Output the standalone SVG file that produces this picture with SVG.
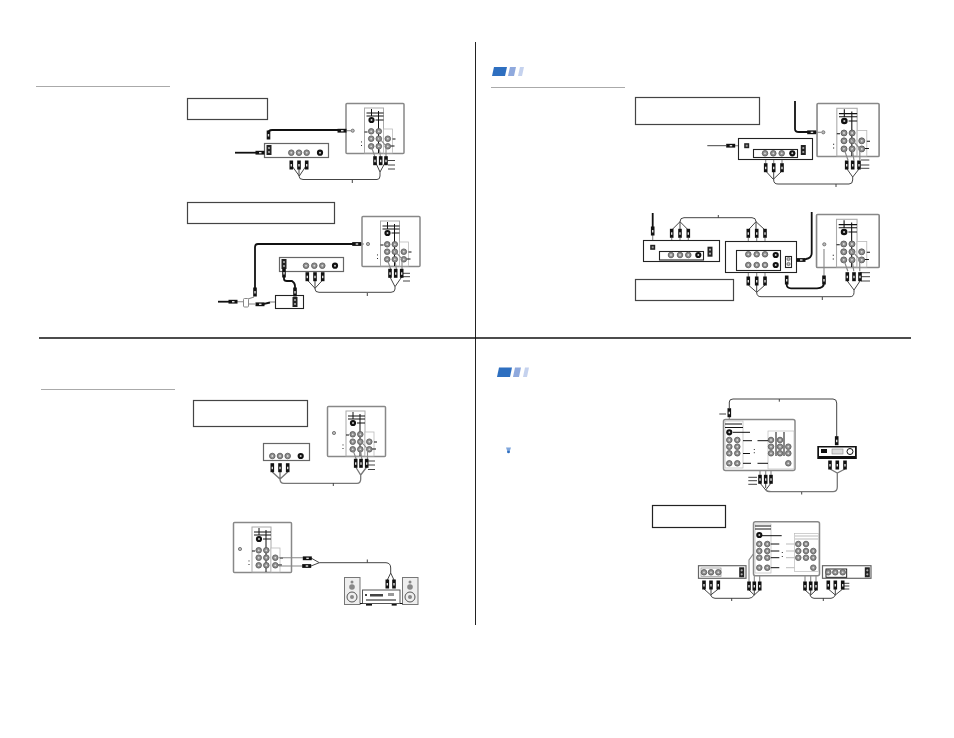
<svg xmlns="http://www.w3.org/2000/svg" width="954" height="738" viewBox="0 0 954 738">
<style>
.frame{fill:#fff;stroke:#666;stroke-width:1.2}
.note{fill:#fff;stroke:#444;stroke-width:1.2}
.tvf{fill:#fff;stroke:#888;stroke-width:1.5}
.bframe{fill:#fff;stroke:#222;stroke-width:1.1}
.ln{fill:none;stroke:#111;stroke-width:1}
.gl{fill:none;stroke:#aaa;stroke-width:.8}
.cb{fill:none;stroke:#444;stroke-width:1}
.cg{fill:none;stroke:#777;stroke-width:1.3}
.co{fill:none;stroke:#111;stroke-width:1.8}
.ar{fill:none;stroke:#888;stroke-width:1.1}
.bk{fill:#111}
.rule{stroke:#aaa;stroke-width:1}
</style>
<defs>
<g id="j"><circle r="2.8" fill="#8f8f8f" stroke="#555" stroke-width=".8"/><circle r=".9" fill="#ddd"/></g>
<g id="s"><circle r="3.1" fill="#111"/><circle r="1" fill="#ccc"/></g>
<g id="c"><circle r="1.6" fill="#bbb" stroke="#666" stroke-width=".8"/></g>
<g id="pd"><rect x="-1.8" y="-4.500" width="3.600" height="9" fill="#111"/><rect x="-.7" y="-1" width="1.4" height="2.500" fill="#ddd"/></g>
<g id="ph"><rect x="-4.500" y="-1.9" width="9" height="3.800" fill="#111"/><rect x="-1" y="-.7" width="2.500" height="1.400" fill="#ddd"/></g>
<g id="sq"><rect x="-2.500" y="-2.500" width="5" height="5" fill="#222"/><rect x="-1" y="-1" width="2" height="2" fill="#999"/></g>
<g id="vr"><rect x="-2.500" y="-5" width="5" height="10" fill="#222"/><circle cy="-2" r="1.100" fill="#aaa"/><circle cy="2" r="1.100" fill="#aaa"/></g>
<path id="leads" class="ar" d="M29.500 54L26 44M35 54L33.500 44M40.500 54V43L33.500 35"/>
<g id="tv">
<rect x=".5" y=".5" width="58" height="50" rx="1" class="tvf"/>
<rect x="19" y="5" width="19" height="45" fill="#fff" stroke="#aaa" stroke-width="1"/>
<rect x="38" y="26" width="9" height="24" fill="#fff" stroke="#bbb" stroke-width=".8"/>
<path class="ln" d="M21 10H38M21 13H38M33 8V50M26 6V13M30 17H38M19 29H22M47 36H50M45 43H49"/>
<use href="#s" x="26" y="17"/>
<use href="#j" x="25.700" y="28.300"/><use href="#j" x="33.300" y="28.300"/>
<use href="#j" x="25.700" y="35.700"/><use href="#j" x="33.300" y="35.700"/><use href="#j" x="42.300" y="35.700"/>
<use href="#j" x="25.700" y="43.300"/><use href="#j" x="33.300" y="43.300"/><use href="#j" x="42.300" y="43.300"/>
<path d="M16 38.500v.9M16 42v.9" stroke="#111" stroke-width="1"/>
</g>
</defs>
<rect width="954" height="738" fill="#fff"/>

<g id="page-dividers">
<path d="M475.500 42V625" stroke="#222" stroke-width="1"/>
<path d="M39 338H911" stroke="#111" stroke-width="1.600"/>
<path class="rule" d="M36 86.500H170M491 87.500H625M41 389.500H175"/>
</g>

<g id="badge-top">
<path d="M494 67H507L505 76H492Z" fill="#2e6fc0"/><path d="M510 67H516L514 76H508Z" fill="#8fa9dd"/><path d="M520 67H524L522 76H518Z" fill="#c5d2ee"/>
</g>
<g id="badge-bottom">
<path d="M499 367.500H512L510 377H497Z" fill="#2e6fc0"/><path d="M515 367.500H521L519 377H513Z" fill="#8fa9dd"/><path d="M525 367.500H529L527 377H523Z" fill="#c5d2ee"/>
</g>
<g id="tip-icon"><path d="M506 447.500h5l-1 3v2h-3v-2Z" fill="#7fa6dc"/><circle cx="508.500" cy="452" r="1.300" fill="#2e6fc0"/></g>

<g id="note-1"><rect x="187.500" y="98.500" width="80" height="21" class="note"/></g>
<g id="note-2"><rect x="187.500" y="202.500" width="147" height="21" class="note"/></g>
<g id="note-3"><rect x="635.500" y="97.500" width="124" height="27" class="note"/></g>
<g id="note-4"><rect x="635.500" y="279.500" width="98" height="21" class="note"/></g>
<g id="note-5"><rect x="193.500" y="400.500" width="114" height="26" class="note"/></g>
<g id="note-6"><rect x="652.500" y="505.500" width="73" height="22" class="note" style="stroke:#222"/></g>

<g id="tv-1"><use href="#tv" x="345.500" y="103"/><use href="#c" x="352.700" y="130.700"/></g>
<g id="tv-2"><use href="#tv" x="361.500" y="216"/><use href="#c" x="368" y="244"/></g>
<g id="tv-3"><use href="#tv" transform="translate(816.500 103) scale(1.070 1.060)"/><use href="#c" x="823.300" y="132.300"/></g>
<g id="tv-4"><use href="#tv" transform="translate(816 214) scale(1.080 1.060)"/><use href="#c" x="824.300" y="244.300"/></g>
<g id="tv-5"><use href="#tv" x="327" y="406"/><use href="#c" x="334" y="433"/></g>
<g id="tv-6"><use href="#tv" x="233" y="522"/><use href="#c" x="240" y="549"/></g>

<g id="connectors">
<use href="#leads" x="345.500" y="103"/><use href="#leads" x="361.500" y="216"/>
<use href="#leads" transform="translate(816.500 103) scale(1.070 1.060)"/>
<use href="#leads" transform="translate(816 214) scale(1.080 1.060)"/>
<use href="#leads" x="327" y="406"/>
<!-- diagram 1 -->
<path class="co" d="M268.500 133Q268.500 130 272 130H338"/>
<path class="ar" d="M345 130.700H351"/>
<path class="co" d="M235 152.700H258"/>
<path class="cb" d="M291.300 165L299.300 176L306.700 165M299 165V176Q299 179.500 303 179.500H377Q380 179.500 380 176V172M375 161L380 172L386 161M352.300 180V183"/>
<path class="cb" d="M388 160.500H395M388 165H395M388 169H395"/>
<!-- diagram 2 -->
<path class="co" d="M353 244H258Q255 244 255 247V289"/>
<path class="ar" d="M359 244H364"/>
<path class="co" d="M284 276V279Q284 281 287 281H292Q295 283 295 286V291"/>
<path class="co" d="M218 301.700H230"/>
<path class="ar" d="M235 301.700H243M248 299L254 297M248 304L255 304"/>
<path class="co" d="M262 304.300L270 302.500"/>
<path class="ar" d="M270 302H294"/>
<path class="cb" d="M307.300 280L315 288.300L322.700 280M315 280V289Q315 292.300 319 292.300H391Q395 292.300 395 289V286.700M390 277L395 286.700L401.700 277M367.300 293V296M403 273.300H410M403 276.700H410M403 281H410"/>
<!-- diagram 3 -->
<path class="co" d="M795 101V129Q795 132 799 132H808"/>
<path class="ar" d="M815 132.300H821"/>
<path class="cb" d="M707.300 145.700H726"/>
<path class="ar" d="M735 145.700H743"/>
<path class="cb" d="M765.700 171L773.300 179.300L782 171M773.700 171V180Q773.700 184 778 184H849Q852.700 184 852.700 180V177M847 169L852.700 177L859 169M836 184V187M861 160H869.300M861 165H869.300M861 168.300H869.300"/>
<!-- diagram 4 -->
<path class="co" d="M652.700 213V227"/>
<path class="cb" d="M671.700 230L680 221.700L688.300 230M680 230V221.700Q680 217.700 684 217.700H752Q756 217.700 756 221.700V230M748.300 230L756 221.700L765 230M718.300 215V218"/>
<path class="ar" d="M652.700 235V245M671.700 238V252M680 238V252M688.300 238V252M748.300 238V251M756.700 238V251M765 238V251M748.300 268V277M756.700 268V277M765 268V277"/>
<path class="cb" d="M748.300 285L756.700 292.300L765 285M756.700 285V292.300Q756.700 296.700 761 296.700H850Q854 296.700 854 292.300V290M847.300 281L854 290L860 281M822.300 297V300M860 272.700H870M861 276.700H870M861 281H870"/>
<path class="co" d="M811.700 212V253Q811.700 258 806 259L803 260"/>
<path class="ar" d="M798 260H792"/>
<path class="co" d="M786.700 283V285Q787 288.300 791 288.300H817Q824 288 824 283"/>
<path class="ar" d="M824 278V249"/>
<!-- diagram 3 leads -->
<path class="ar" d="M765.700 157V163M773.700 157V163M782 157V163"/>
<!-- diagram 5 -->
<path class="cg" d="M272.300 472L280 479L287.700 472M280 472V479Q280 483.300 284 483.300H357Q360.700 483.300 360.700 479V475M355.700 467L360.700 475L366.700 467"/>
<path class="cb" d="M333.300 483V486M368 461H375M368 465H375M368 469.500H375"/>
<!-- diagram 6 -->
<path class="cb" d="M311 558L319.300 562.700L311 566M319.300 562.700H386Q390.700 563 390.700 568V573M387.300 580L390.700 573L394 580M367.300 559.500V562.700"/>
<path class="ar" d="M279 557.700H303M279 566H303"/>
<!-- diagram 7 -->
<path class="cb" d="M729.300 408V402Q729.300 399 733 399H833Q836.700 399 836.700 403V437M779.300 399V401.700M719.300 414H726"/>
<path class="ar" d="M729.300 416V433"/>
<path class="ar" d="M760 475V453L771 442M765.700 475V453L771 447M771 475V453"/>
<path class="cb" d="M748.300 477.300H757M748.300 480.700H757M748.300 484.300H757M760 483L765.700 490L771 483M765.700 483V488"/>
<path class="cg" d="M765.700 490Q767 491.700 771 491.700H833Q837.300 491.700 837.300 487V473M830 469L837.300 473L845 469"/>
<path class="cb" d="M801.700 492V494.500"/>
<!-- diagram 8 -->
<path class="ar" d="M749 582V560L757 549M754.300 582V561L759 556M759.700 582V561"/>
<path class="ar" d="M805 582V553M810.700 582V553M816 582V553"/>
<path class="cb" d="M749 590L754.300 595L759.700 590M754.300 590V595Q752 598.300 749 598.300H715Q711.700 598.300 710.700 595M704 589L710.700 595L718.300 589M711 589V595M731.700 598V601"/>
<path class="cb" d="M828.300 589L835.300 595L842.700 589M835.300 589V595Q834 598.300 831 598.300H814Q811 598.300 810 595M805 590L810.700 595L816 590M810.700 590V595M823.300 598V601M843 583.300H849.300M843 586H849.300M843 589H849.300"/>
</g>

<g id="vcr-1"><rect x="264.500" y="143.500" width="64" height="14" class="frame"/><use href="#vr" x="269" y="150"/>
<use href="#j" x="291.300" y="152.700"/><use href="#j" x="299" y="152.700"/><use href="#j" x="306.700" y="152.700"/><use href="#s" x="320" y="152.700"/></g>
<g id="vcr-2"><rect x="279.500" y="257.500" width="64" height="14" class="frame"/><use href="#vr" x="284" y="264"/>
<use href="#j" x="306" y="265.700"/><use href="#j" x="314.300" y="265.700"/><use href="#j" x="322.300" y="265.700"/><use href="#s" x="335" y="265.700"/></g>
<g id="decoder"><rect x="275.500" y="295.500" width="28" height="13" class="bframe"/><use href="#vr" x="295" y="302"/></g>
<g id="splitter"><rect x="243.500" y="298.500" width="5" height="8.500" rx="1" fill="#fff" stroke="#888"/></g>
<g id="vcr-3"><rect x="738.500" y="138.500" width="74" height="21" class="bframe"/><use href="#sq" x="746.700" y="145.700"/>
<rect x="753.500" y="149.500" width="44" height="8" class="bframe"/>
<use href="#j" x="765" y="153.300"/><use href="#j" x="773.300" y="153.300"/><use href="#j" x="781.700" y="153.300"/><use href="#s" x="792.300" y="153.300"/>
<use href="#vr" x="803.300" y="150"/></g>
<g id="vcr-4"><rect x="643.500" y="240.500" width="76" height="21" class="bframe"/><use href="#sq" x="652.700" y="247.300"/>
<rect x="659.500" y="251.500" width="44" height="8.500" class="bframe"/>
<use href="#j" x="671" y="255"/><use href="#j" x="680" y="255"/><use href="#j" x="688.300" y="255"/><use href="#s" x="698.300" y="255"/>
<use href="#vr" x="710" y="251.700"/></g>
<g id="vcr-5"><rect x="725.500" y="241.500" width="71" height="31" class="bframe"/>
<rect x="736.500" y="250.500" width="44" height="20" class="bframe"/>
<use href="#j" x="748.300" y="254.300"/><use href="#j" x="756.700" y="254.300"/><use href="#j" x="765" y="254.300"/><use href="#s" x="775.700" y="255"/>
<use href="#j" x="748.300" y="265"/><use href="#j" x="756.700" y="265"/><use href="#j" x="765" y="265"/><use href="#s" x="775.700" y="265"/>
<rect x="785.500" y="256.500" width="6" height="11" class="bframe"/><use href="#c" x="788.500" y="259"/><use href="#c" x="788.500" y="264"/></g>
<g id="device-5"><rect x="263.500" y="443.500" width="46" height="17" class="frame"/>
<use href="#j" x="272.300" y="456"/><use href="#j" x="280" y="456"/><use href="#j" x="287.700" y="456"/><use href="#s" x="300.700" y="456"/></g>

<g id="speaker-left"><rect x="344.500" y="577.500" width="15.500" height="27" fill="#eee" stroke="#777"/>
<circle cx="352" cy="582" r="1.500" fill="#888"/><circle cx="352" cy="587" r="2.800" fill="#888"/><circle cx="352" cy="597" r="5" fill="#eee" stroke="#555"/><circle cx="352" cy="597" r="2" fill="#888"/></g>
<g id="speaker-right"><rect x="402.500" y="577.500" width="15.500" height="27" fill="#eee" stroke="#777"/>
<circle cx="410" cy="582" r="1.500" fill="#888"/><circle cx="410" cy="587" r="2.800" fill="#888"/><circle cx="410" cy="597" r="5" fill="#eee" stroke="#555"/><circle cx="410" cy="597" r="2" fill="#888"/></g>
<g id="stereo"><rect x="362.500" y="590" width="37.500" height="13.500" fill="#fff" stroke="#555"/>
<rect x="370" y="594" width="13" height="2.500" fill="#444"/><rect x="365" y="594" width="2" height="2" fill="#444"/><rect x="388" y="593" width="6" height="3" fill="#999"/>
<rect x="366" y="604" width="6" height="1.600" class="bk"/><rect x="391.700" y="604" width="5" height="1.600" class="bk"/>
<path class="ln" d="M360 603.500H362.500M400 603.500H402.500M366 600H396"/></g>

<g id="tv-7"><rect x="723.500" y="419.500" width="71.500" height="51" rx="2" class="tvf"/>
<rect x="725" y="421" width="18" height="47" fill="#fff" stroke="#bbb" stroke-width=".7"/>
<rect x="768" y="431" width="26" height="38" fill="#fff" stroke="#bbb" stroke-width=".7"/>
<path class="ln" d="M725 424H742M725 427.500H743M733 432.300H750M743 440.700H752M743 453.500H750M743 463.300H751M757.500 440.700H768M757.500 463.300H768M776 432V456M784 432V456"/>
<path d="M754.300 449v.9M754.300 452.300v.9" stroke="#111"/>
<use href="#s" x="729.300" y="432.300"/>
<use href="#j" x="729.300" y="440"/><use href="#j" x="737.300" y="440"/><use href="#j" x="729.300" y="446.700"/><use href="#j" x="737.300" y="446.700"/><use href="#j" x="729.300" y="453.300"/><use href="#j" x="737.300" y="453.300"/><use href="#j" x="729.300" y="463.300"/><use href="#j" x="737.300" y="463.300"/>
<use href="#j" x="771" y="440"/><use href="#j" x="780" y="440"/><use href="#j" x="771" y="446.700"/><use href="#j" x="780" y="446.700"/><use href="#j" x="788.300" y="446.700"/><use href="#j" x="771" y="453.300"/><use href="#j" x="780" y="453.300"/><use href="#j" x="788.300" y="453.300"/><use href="#j" x="788.300" y="463.300"/></g>
<g id="receiver"><rect x="817.300" y="446" width="39.500" height="13" fill="#111"/><rect x="819" y="447.500" width="36" height="8.500" fill="#fff"/>
<rect x="821" y="449" width="6" height="4" fill="#111"/><rect x="832" y="449" width="11" height="5" fill="#ddd" stroke="#777" stroke-width=".5"/><circle cx="850" cy="451.500" r="3" fill="#fff" stroke="#111"/></g>

<g id="tv-8"><rect x="753.500" y="521.700" width="66" height="54" rx="2" class="tvf"/>
<rect x="755" y="524" width="16" height="49" fill="#fff" stroke="#bbb" stroke-width=".7"/>
<rect x="794.500" y="533.500" width="24" height="38" fill="#fff" stroke="#bbb" stroke-width=".7"/>
<path class="ln" d="M761.700 535.700H781.700M771 544H779.300M771 551H779.300M771 557.700H779.300M771 567.700H779.300M755 526H771M755 529H771"/>
<path class="gl" d="M786 544H794.300M786 551H794.300M786 557.700H794.300M786 567.700H794.300M795 536H818M795 539H818"/>
<path d="M782.300 552v.9M782.300 556v.9" stroke="#111"/>
<use href="#s" x="759.300" y="535"/>
<use href="#j" x="759.300" y="544"/><use href="#j" x="767.300" y="544"/><use href="#j" x="759.300" y="551"/><use href="#j" x="767.300" y="551"/><use href="#j" x="759.300" y="557.700"/><use href="#j" x="767.300" y="557.700"/><use href="#j" x="759.300" y="567.700"/><use href="#j" x="767.300" y="567.700"/>
<use href="#j" x="798.300" y="544"/><use href="#j" x="806" y="544"/><use href="#j" x="798.300" y="551"/><use href="#j" x="806" y="551"/><use href="#j" x="813.300" y="551"/><use href="#j" x="798.300" y="557.700"/><use href="#j" x="806" y="557.700"/><use href="#j" x="813.300" y="557.700"/><use href="#j" x="813.300" y="567.700"/></g>
<g id="vcr-8a"><rect x="698.500" y="565.700" width="47.500" height="12.600" class="frame"/><rect x="701" y="568" width="20" height="8.300" fill="none" stroke="#999" stroke-width=".8"/>
<use href="#j" x="704" y="572.300"/><use href="#j" x="711" y="572.300"/><use href="#j" x="718.300" y="572.300"/><use href="#vr" x="741.700" y="572.300"/></g>
<g id="vcr-8b"><rect x="822.500" y="565.700" width="48.500" height="12.600" class="frame"/><rect x="826" y="569" width="20.700" height="8.300" fill="none" stroke="#111" stroke-width=".9"/>
<use href="#j" x="828.300" y="572.300"/><use href="#j" x="835.300" y="572.300"/><use href="#j" x="842.700" y="572.300"/><use href="#vr" x="867.300" y="572.300"/></g>

<g id="plugs">
<use href="#pd" x="268.500" y="135"/><use href="#ph" x="342" y="130.700"/><use href="#ph" x="260" y="152.700"/>
<use href="#pd" x="291.300" y="165"/><use href="#pd" x="299" y="165"/><use href="#pd" x="306.700" y="165"/>
<use href="#pd" x="375" y="160.700"/><use href="#pd" x="380.700" y="160.700"/><use href="#pd" x="386" y="160.700"/>
<use href="#ph" x="356.700" y="244"/><use href="#pd" x="255" y="292"/><use href="#pd" x="284" y="273"/><use href="#pd" x="295" y="292"/>
<use href="#ph" x="233" y="301.700"/><use href="#ph" x="260" y="304.300"/>
<use href="#pd" x="307.300" y="276.700"/><use href="#pd" x="315" y="276.700"/><use href="#pd" x="322.700" y="276.700"/>
<use href="#pd" x="390" y="273.300"/><use href="#pd" x="395.700" y="273.300"/><use href="#pd" x="401.700" y="273.300"/>
<use href="#ph" x="811.700" y="132.300"/><use href="#ph" x="730.700" y="145.700"/>
<use href="#pd" x="765.700" y="167.700"/><use href="#pd" x="773.700" y="167.700"/><use href="#pd" x="782" y="167.700"/>
<use href="#pd" x="846.700" y="165"/><use href="#pd" x="852.700" y="165"/><use href="#pd" x="859" y="165"/>
<use href="#pd" x="652.700" y="231"/>
<use href="#pd" x="671.700" y="233.300"/><use href="#pd" x="680" y="233.300"/><use href="#pd" x="688.300" y="233.300"/>
<use href="#pd" x="748.300" y="233.300"/><use href="#pd" x="756.700" y="233.300"/><use href="#pd" x="765" y="233.300"/>
<use href="#pd" x="748.300" y="281"/><use href="#pd" x="756.700" y="281"/><use href="#pd" x="765" y="281"/>
<use href="#pd" x="847.300" y="276.700"/><use href="#pd" x="854" y="276.700"/><use href="#pd" x="860" y="276.700"/>
<use href="#ph" x="801" y="260"/><use href="#pd" x="786.700" y="280"/><use href="#pd" x="824" y="280"/>
<use href="#pd" x="272.300" y="467.700"/><use href="#pd" x="280" y="467.700"/><use href="#pd" x="287.700" y="467.700"/>
<use href="#pd" x="355.700" y="463.300"/><use href="#pd" x="361" y="463.300"/><use href="#pd" x="366.700" y="463.300"/>
<use href="#ph" x="307.300" y="558.300"/><use href="#ph" x="306.700" y="566"/>
<use href="#pd" x="387.300" y="584"/><use href="#pd" x="394" y="584"/>
<use href="#pd" x="729.300" y="412.700"/><use href="#pd" x="836.700" y="440.700"/>
<use href="#pd" x="760" y="479.300"/><use href="#pd" x="765.700" y="479.300"/><use href="#pd" x="771" y="479.300"/>
<use href="#pd" x="830" y="465"/><use href="#pd" x="837.300" y="465"/><use href="#pd" x="845" y="465"/>
<use href="#pd" x="749" y="586"/><use href="#pd" x="754.300" y="586"/><use href="#pd" x="759.700" y="586"/>
<use href="#pd" x="704" y="585"/><use href="#pd" x="711" y="585"/><use href="#pd" x="718.300" y="585"/>
<use href="#pd" x="805" y="586"/><use href="#pd" x="810.700" y="586"/><use href="#pd" x="816" y="586"/>
<use href="#pd" x="828.300" y="585"/><use href="#pd" x="835.300" y="585"/><use href="#pd" x="842.700" y="585"/>
</g>
</svg>
